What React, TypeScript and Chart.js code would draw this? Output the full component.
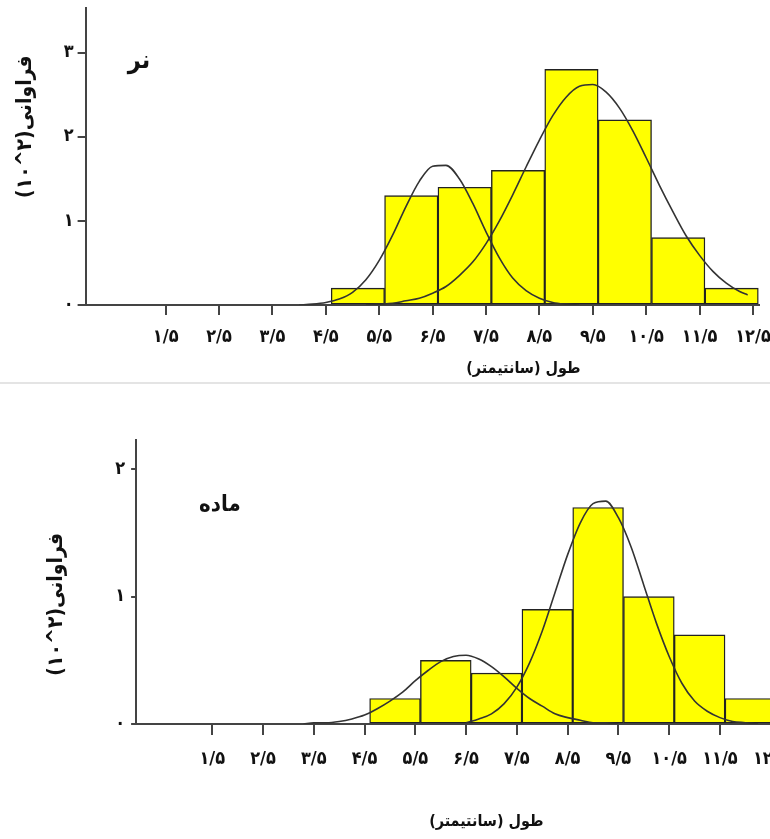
import React, { useEffect, useRef } from 'react';
import { Chart, registerables } from 'chart.js';

Chart.register(...registerables);

const FONT = '"DejaVu Sans Condensed", "DejaVu Sans", sans-serif';

// ---- shared axis labels ----
const xTickValues = [1.5, 2.5, 3.5, 4.5, 5.5, 6.5, 7.5, 8.5, 9.5, 10.5, 11.5, 12.5];
const xTickLabels = ['۱/۵', '۲/۵', '۳/۵', '۴/۵', '۵/۵', '۶/۵', '۷/۵', '۸/۵', '۹/۵', '۱۰/۵', '۱۱/۵', '۱۲/۵'];
const maleYTicks = [0, 1, 2, 3];
const femaleYTicks = [0, 1, 2];
const yTickLabels = ['۰', '۱', '۲', '۳'];
const xTitle = 'طول (سانتیمتر)';
const yTitle = 'فراوانی(۲^۱۰)';
const maleLabel = 'نر';
const femaleLabel = 'ماده';

// ---- histogram bins (bar centres, cm) ----
const binCenters = [5.1, 6.1, 7.1, 8.1, 9.1, 10.1, 11.1, 12.1];
const maleCounts = [0.2, 1.3, 1.4, 1.6, 2.8, 2.2, 0.8, 0.2];
const femaleCounts = [0.2, 0.5, 0.4, 0.9, 1.7, 1.0, 0.7, 0.2];

// ---- fitted curves ----
const maleCurveAX = [4.0, 4.25, 4.5, 4.75, 5.0, 5.25, 5.5, 5.75, 6.0, 6.25, 6.5, 6.75, 7.0, 7.25, 7.5, 7.75, 8.0, 8.25, 8.5, 8.75, 9.0, 9.25];
const maleCurveAY = [0.0, 0.01, 0.03, 0.07, 0.15, 0.3, 0.53, 0.83, 1.17, 1.47, 1.65, 1.66, 1.5, 1.21, 0.87, 0.56, 0.32, 0.17, 0.08, 0.03, 0.01, 0.0];
const maleCurveBX = [5.25, 5.5, 5.75, 6.0, 6.25, 6.5, 6.75, 7.0, 7.25, 7.5, 7.75, 8.0, 8.25, 8.5, 8.75, 9.0, 9.25, 9.5, 9.75, 10.0, 10.25, 10.5, 10.75, 11.0, 11.25, 11.5, 11.75, 12.0, 12.25, 12.4];
const maleCurveBY = [0.0, 0.01, 0.02, 0.05, 0.08, 0.14, 0.22, 0.35, 0.51, 0.73, 1.0, 1.31, 1.64, 1.96, 2.25, 2.47, 2.6, 2.62, 2.53, 2.34, 2.07, 1.75, 1.42, 1.11, 0.82, 0.59, 0.4, 0.26, 0.16, 0.12];
const femaleCurveAX = [3.3, 3.5, 3.75, 4.0, 4.25, 4.5, 4.75, 5.0, 5.25, 5.5, 5.75, 6.0, 6.25, 6.5, 6.75, 7.0, 7.25, 7.5, 7.75, 8.0, 8.25, 8.5, 8.75, 9.0, 9.25, 9.5];
const femaleCurveAY = [0.0, 0.01, 0.01, 0.02, 0.04, 0.07, 0.12, 0.18, 0.25, 0.34, 0.42, 0.49, 0.53, 0.54, 0.51, 0.45, 0.37, 0.28, 0.2, 0.14, 0.08, 0.05, 0.03, 0.01, 0.01, 0.0];
const femaleCurveBX = [6.5, 6.75, 7.0, 7.25, 7.5, 7.75, 8.0, 8.25, 8.5, 8.75, 9.0, 9.25, 9.5, 9.75, 10.0, 10.25, 10.5, 10.75, 11.0, 11.25, 11.5, 11.75, 12.0, 12.25];
const femaleCurveBY = [0.01, 0.04, 0.08, 0.16, 0.29, 0.48, 0.73, 1.03, 1.33, 1.58, 1.73, 1.75, 1.62, 1.39, 1.09, 0.79, 0.53, 0.32, 0.18, 0.1, 0.05, 0.02, 0.01, 0.0];

const zip = (xs: number[], ys: number[]) => xs.map((x, i) => ({ x, y: ys[i] }));

type PanelCfg = {
  width: number;
  height: number;
  counts: number[];
  curves: { x: number[]; y: number[] }[];
  yTicks: number[];
  xMax: number;
  yMax: number;
  yAxisWidth: number;
  padTop: number;
  padRight: number;
  xAxisHeight: number;
  yTickLen: number;
  xTickLen: number;
  xTickPad: number;
  yTickPad: number;
  group: string;
  groupAt: [number, number];
  groupSize: number;
  xTitleAt: number;
  xTitleOffset: number;
  yTitleX: number;
  yTitleAt: number;
};

function makeChart(canvas: HTMLCanvasElement, c: PanelCfg) {
  const textPlugin = {
    id: 'persianText',
    afterDraw(chart: any) {
      const { ctx } = chart;
      const xs = chart.scales.x;
      const ys = chart.scales.y;
      ctx.save();
      ctx.fillStyle = '#111';
      ctx.direction = 'rtl';
      ctx.textAlign = 'center';
      ctx.textBaseline = 'middle';
      ctx.font = `bold ${c.groupSize}px ${FONT}`;
      ctx.fillText(c.group, xs.getPixelForValue(c.groupAt[0]), ys.getPixelForValue(c.groupAt[1]));
      ctx.font = `bold 16px ${FONT}`;
      ctx.fillText(xTitle, xs.getPixelForValue(c.xTitleAt), ys.bottom + c.xTitleOffset);
      ctx.translate(c.yTitleX, ys.getPixelForValue(c.yTitleAt));
      ctx.rotate(-Math.PI / 2);
      ctx.font = `bold 21px ${FONT}`;
      ctx.fillText(yTitle, 0, 0);
      ctx.restore();
    },
  };

  const datasets: any[] = c.curves.map((cv) => ({
    type: 'line',
    data: zip(cv.x, cv.y),
    borderColor: '#333333',
    borderWidth: 1.6,
    pointRadius: 0,
    fill: false,
    cubicInterpolationMode: 'monotone',
    order: 0,
  }));
  datasets.push({
    type: 'bar',
    data: zip(binCenters, c.counts),
    backgroundColor: '#ffff00',
    borderColor: '#222222',
    borderWidth: 1.4,
    borderSkipped: false,
    barPercentage: 1,
    categoryPercentage: 1,
    order: 1,
  });

  return new Chart(canvas, {
    type: 'bar',
    data: { datasets },
    plugins: [textPlugin],
    options: {
      responsive: false,
      animation: false,
      devicePixelRatio: 1,
      layout: { padding: { left: 0, top: c.padTop, right: c.padRight, bottom: 0 } },
      plugins: { legend: { display: false }, tooltip: { enabled: false }, title: { display: false } },
      scales: {
        x: {
          type: 'linear',
          min: 0,
          max: c.xMax,
          offset: false,
          afterBuildTicks: (s: any) => {
            s.ticks = xTickValues.map((v) => ({ value: v }));
          },
          afterFit: (s: any) => {
            s.height = c.xAxisHeight;
            s.paddingLeft = 0;
            s.paddingRight = 0;
          },
          grid: {
            display: true,
            drawOnChartArea: false,
            drawTicks: true,
            tickLength: c.xTickLen,
            color: '#444',
            lineWidth: 2,
            offset: false,
          },
          border: { display: true, color: '#444', width: 2 },
          ticks: {
            autoSkip: false,
            maxRotation: 0,
            padding: c.xTickPad,
            color: '#111',
            font: { family: FONT, size: 18, weight: 'bold' },
            callback: (_v: any, i: number) => xTickLabels[i],
          },
        },
        y: {
          type: 'linear',
          min: 0,
          max: c.yMax,
          afterBuildTicks: (s: any) => {
            s.ticks = c.yTicks.map((v) => ({ value: v }));
          },
          afterFit: (s: any) => {
            s.width = c.yAxisWidth;
            s.paddingTop = 0;
            s.paddingBottom = 0;
          },
          grid: {
            display: true,
            drawOnChartArea: false,
            drawTicks: true,
            tickLength: c.yTickLen,
            color: '#444',
            lineWidth: 2,
          },
          border: { display: true, color: '#444', width: 2 },
          ticks: {
            padding: c.yTickPad,
            color: '#111',
            font: { family: FONT, size: 18, weight: 'bold' },
            callback: (_v: any, i: number) => yTickLabels[c.yTicks[i]],
          },
        },
      },
    } as any,
  });
}

const maleCfg: PanelCfg = {
  width: 800,
  height: 383,
  counts: maleCounts,
  curves: [
    { x: maleCurveAX, y: maleCurveAY },
    { x: maleCurveBX, y: maleCurveBY },
  ],
  yTicks: maleYTicks,
  xMax: 12.62,
  yMax: 3.53,
  yAxisWidth: 85.6,
  padTop: 8,
  padRight: 800 - (85.6 + 12.62 * 53.39),
  xAxisHeight: 78,
  yTickLen: 8,
  xTickLen: 10,
  xTickPad: 12,
  yTickPad: 4,
  group: maleLabel,
  groupAt: [1.0, 2.9],
  groupSize: 25,
  xTitleAt: 8.2,
  xTitleOffset: 64,
  yTitleX: 26,
  yTitleAt: 2.12,
};

const femaleCfg: PanelCfg = {
  width: 800,
  height: 455,
  counts: femaleCounts,
  curves: [
    { x: femaleCurveAX, y: femaleCurveAY },
    { x: femaleCurveBX, y: femaleCurveBY },
  ],
  yTicks: femaleYTicks,
  xMax: 12.62,
  yMax: 2.23,
  yAxisWidth: 136.1,
  padTop: 56,
  padRight: 800 - (136.1 + 12.62 * 50.77),
  xAxisHeight: 115,
  yTickLen: 5,
  xTickLen: 11,
  xTickPad: 14,
  yTickPad: 6,
  group: femaleLabel,
  groupAt: [1.65, 1.72],
  groupSize: 22,
  xTitleAt: 6.9,
  xTitleOffset: 98,
  yTitleX: 57,
  yTitleAt: 0.94,
};

function Panel({ cfg, top }: { cfg: PanelCfg; top: number }) {
  const ref = useRef<HTMLCanvasElement>(null);
  useEffect(() => {
    if (!ref.current) return;
    const chart = makeChart(ref.current, cfg);
    return () => chart.destroy();
  }, [cfg]);
  return (
    <canvas
      ref={ref}
      width={cfg.width}
      height={cfg.height}
      style={{ position: 'absolute', left: 0, top, width: cfg.width, height: cfg.height }}
    />
  );
}

export default function App() {
  return (
    <div
      style={{
        position: 'fixed',
        left: 0,
        top: 0,
        width: 770,
        height: 839,
        overflow: 'hidden',
        background: '#fff',
      }}
    >
      <Panel cfg={maleCfg} top={0} />
      <div style={{ position: 'absolute', left: 0, top: 382, width: 770, height: 2, background: '#e4e4e4' }} />
      <Panel cfg={femaleCfg} top={384} />
    </div>
  );
}
